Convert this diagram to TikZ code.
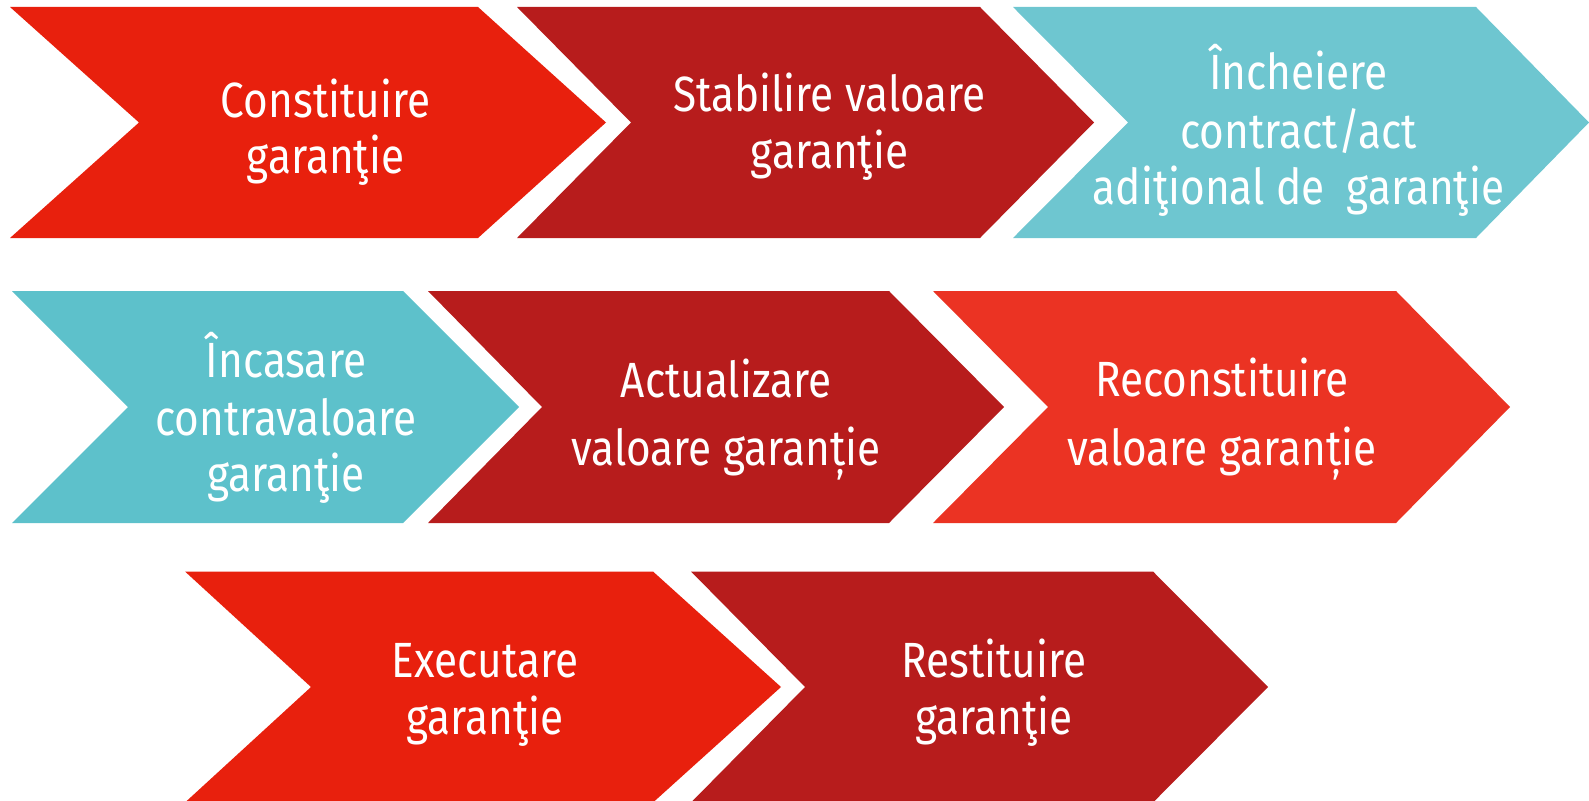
\documentclass[tikz,border=0pt]{standalone}
\usepackage{fontspec}
\setmainfont[FakeStretch=0.855]{Fira Sans}
\definecolor{cRed}{HTML}{E8200D}
\definecolor{cDark}{HTML}{B71C1C}
\definecolor{cTealA}{HTML}{6EC6D0}
\definecolor{cTealB}{HTML}{5DC1CB}
\definecolor{cOrange}{HTML}{EB3323}
\begin{document}
\begin{tikzpicture}[x=1pt,y=-1pt,
  lbl/.style={text=white,font=\fontsize{49.5}{56}\selectfont,anchor=base,inner sep=0pt}]
\useasboundingbox (0,0) rectangle (1589,800);
% row 1
\fill[cRed]   (10,7) -- (478,7) -- (606,122.5) -- (478,238) -- (10,238) -- (139,122.5) -- cycle;
\fill[cDark]  (517,7) -- (980,7) -- (1094,122.5) -- (980,238) -- (517,238) -- (631,122.5) -- cycle;
\fill[cTealA] (1013,7) -- (1476,7) -- (1589,122.5) -- (1476,238) -- (1013,238) -- (1128,122.5) -- cycle;
% row 2
\fill[cTealB] (12,291) -- (403,291) -- (519,407) -- (403,523) -- (12,523) -- (128,407) -- cycle;
\fill[cDark]  (428,291) -- (889,291) -- (1004,407) -- (889,523) -- (428,523) -- (542,407) -- cycle;
\fill[cOrange](933,291) -- (1396,291) -- (1510,407) -- (1396,523) -- (933,523) -- (1048,407) -- cycle;
% row 3
\fill[cRed]   (185,571.5) -- (653,571.5) -- (781,687) -- (653,802.5) -- (185,802.5) -- (311,687) -- cycle;
\fill[cDark]  (691,571.5) -- (1153,571.5) -- (1268,687) -- (1153,802.5) -- (691,802.5) -- (805,687) -- cycle;
% texts
\node[lbl] (t1a) at (325.5,117) {Constituire};
\node[lbl] (t1b) at (325.5,173) {garanţie};
\node[lbl] (t2a) at (829.5,111) {Stabilire valoare};
\node[lbl] (t2b) at (829.5,168) {garanţie};
\node[lbl] (t3a) at (1298.5,89) {Încheiere};
\node[lbl] (t3b) at (1298.5,148) {contract/act};
\node[lbl] (t3c) at (1298.5,204) {adiţional de\ \ garanţie};
\node[lbl] (t4a) at (286,377) {Încasare};
\node[lbl] (t4b) at (286,435) {contravaloare};
\node[lbl] (t4c) at (286,491) {garanţie};
\node[lbl] (t5a) at (726,397) {Actualizare};
\node[lbl] (t5b) at (726,465) {valoare garanție};
\node[lbl] (t6a) at (1222,396) {Reconstituire};
\node[lbl] (t6b) at (1222,465) {valoare garanție};
\node[lbl] (t7a) at (485,677) {Executare};
\node[lbl] (t7b) at (485,734) {garanţie};
\node[lbl] (t8a) at (994,677) {Restituire};
\node[lbl] (t8b) at (994,734) {garanţie};
\end{tikzpicture}
\end{document}
